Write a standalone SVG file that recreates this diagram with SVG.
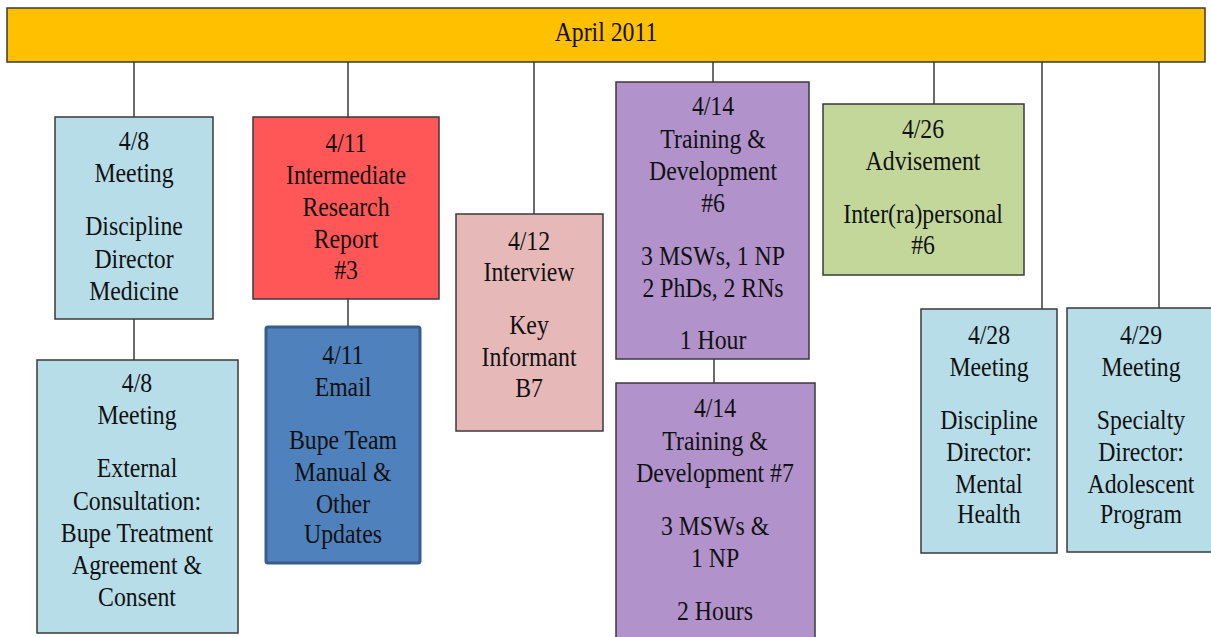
<svg xmlns="http://www.w3.org/2000/svg" width="1211" height="637" viewBox="0 0 1211 637" font-family="'Liberation Serif', 'DejaVu Serif', serif">
  <style>
    .box { stroke: #3a3a3a; stroke-width: 1.5; }
    .meet { fill: #B7DDE8; }
    .report { fill: #FF5757; }
    .email { fill: #4F81BD; stroke: #385D8A; stroke-width: 3; }
    .interview { fill: #E6B9B8; }
    .training { fill: #B292CB; }
    .advise { fill: #C4D79B; }
    .bar { fill: #FFC000; stroke: #3a3a3a; stroke-width: 1.5; }
    .conn line { stroke: #3a3a3a; stroke-width: 1.5; }
    text { font-family: 'Liberation Serif', 'DejaVu Serif', serif; font-size: 27px; fill: #111; text-anchor: middle; }
  </style>

  <!-- timeline header -->
  <g id="header">
    <rect class="bar" x="7" y="8" width="1198" height="54"/>
    <g transform="translate(606 0) scale(0.88 1)"><text x="0" y="41">April 2011</text></g>
  </g>

  <!-- connectors -->
  <g id="connectors" class="conn">
    <line x1="134" y1="62" x2="134" y2="117"/>
    <line x1="134" y1="319" x2="134" y2="360"/>
    <line x1="348" y1="62" x2="348" y2="117"/>
    <line x1="348" y1="299" x2="348" y2="327"/>
    <line x1="534" y1="62" x2="534" y2="214"/>
    <line x1="713" y1="62" x2="713" y2="82"/>
    <line x1="714" y1="359" x2="714" y2="383"/>
    <line x1="934" y1="62" x2="934" y2="104"/>
    <line x1="1042" y1="62" x2="1042" y2="309"/>
    <line x1="1159" y1="62" x2="1159" y2="308"/>
  </g>

  <g id="n-0408-medicine">
    <rect class="box meet" x="55" y="117" width="158" height="202"/>
    <g transform="translate(134 0) scale(0.88 1)">
      <text x="0" y="150">4/8</text>
      <text x="0" y="182">Meeting</text>
      <text x="0" y="235">Discipline</text>
      <text x="0" y="268">Director</text>
      <text x="0" y="300">Medicine</text>
    </g>
  </g>

  <g id="n-0408-consult">
    <rect class="box meet" x="37" y="360" width="201" height="273"/>
    <g transform="translate(137 0) scale(0.88 1)">
      <text x="0" y="392">4/8</text>
      <text x="0" y="424">Meeting</text>
      <text x="0" y="477">External</text>
      <text x="0" y="510">Consultation:</text>
      <text x="0" y="542">Bupe Treatment</text>
      <text x="0" y="574">Agreement  &amp;</text>
      <text x="0" y="606">Consent</text>
    </g>
  </g>

  <g id="n-0411-report">
    <rect class="box report" x="253" y="117" width="186" height="182"/>
    <g transform="translate(346 0) scale(0.88 1)">
      <text x="0" y="152">4/11</text>
      <text x="0" y="184">Intermediate</text>
      <text x="0" y="216">Research</text>
      <text x="0" y="248">Report</text>
      <text x="0" y="279">#3</text>
    </g>
  </g>

  <g id="n-0411-email">
    <rect class="email" x="266" y="327" width="154" height="236" rx="2"/>
    <g transform="translate(343 0) scale(0.88 1)">
      <text x="0" y="364">4/11</text>
      <text x="0" y="396">Email</text>
      <text x="0" y="449">Bupe Team</text>
      <text x="0" y="481">Manual  &amp;</text>
      <text x="0" y="513">Other</text>
      <text x="0" y="543">Updates</text>
    </g>
  </g>

  <g id="n-0412-interview">
    <rect class="box interview" x="456" y="214" width="147" height="217"/>
    <g transform="translate(529 0) scale(0.88 1)">
      <text x="0" y="250">4/12</text>
      <text x="0" y="281">Interview</text>
      <text x="0" y="334">Key</text>
      <text x="0" y="366">Informant</text>
      <text x="0" y="397">B7</text>
    </g>
  </g>

  <g id="n-0414-training6">
    <rect class="box training" x="616" y="82" width="193" height="277"/>
    <g transform="translate(713 0) scale(0.88 1)">
      <text x="0" y="115">4/14</text>
      <text x="0" y="148">Training &amp;</text>
      <text x="0" y="180">Development</text>
      <text x="0" y="212">#6</text>
      <text x="0" y="265">3 MSWs, 1 NP</text>
      <text x="0" y="297">2 PhDs, 2 RNs</text>
      <text x="0" y="349">1 Hour</text>
    </g>
  </g>

  <g id="n-0414-training7">
    <rect class="box training" x="616" y="383" width="199" height="260"/>
    <g transform="translate(715 0) scale(0.88 1)">
      <text x="0" y="417">4/14</text>
      <text x="0" y="450">Training &amp;</text>
      <text x="0" y="482">Development #7</text>
      <text x="0" y="535">3 MSWs &amp;</text>
      <text x="0" y="567">1 NP</text>
      <text x="0" y="620">2 Hours</text>
    </g>
  </g>

  <g id="n-0426-advisement">
    <rect class="box advise" x="823" y="104" width="201" height="171"/>
    <g transform="translate(923 0) scale(0.88 1)">
      <text x="0" y="138">4/26</text>
      <text x="0" y="170">Advisement</text>
      <text x="0" y="223">Inter(ra)personal</text>
      <text x="0" y="254">#6</text>
    </g>
  </g>

  <g id="n-0428-mental-health">
    <rect class="box meet" x="921" y="309" width="136" height="244"/>
    <g transform="translate(989 0) scale(0.88 1)">
      <text x="0" y="344">4/28</text>
      <text x="0" y="376">Meeting</text>
      <text x="0" y="429">Discipline</text>
      <text x="0" y="461">Director:</text>
      <text x="0" y="493">Mental</text>
      <text x="0" y="523">Health</text>
    </g>
  </g>

  <g id="n-0429-adolescent">
    <rect class="box meet" x="1067" y="308" width="148" height="244"/>
    <g transform="translate(1141 0) scale(0.88 1)">
      <text x="0" y="344">4/29</text>
      <text x="0" y="376">Meeting</text>
      <text x="0" y="429">Specialty</text>
      <text x="0" y="461">Director:</text>
      <text x="0" y="493">Adolescent</text>
      <text x="0" y="523">Program</text>
    </g>
  </g>
</svg>
